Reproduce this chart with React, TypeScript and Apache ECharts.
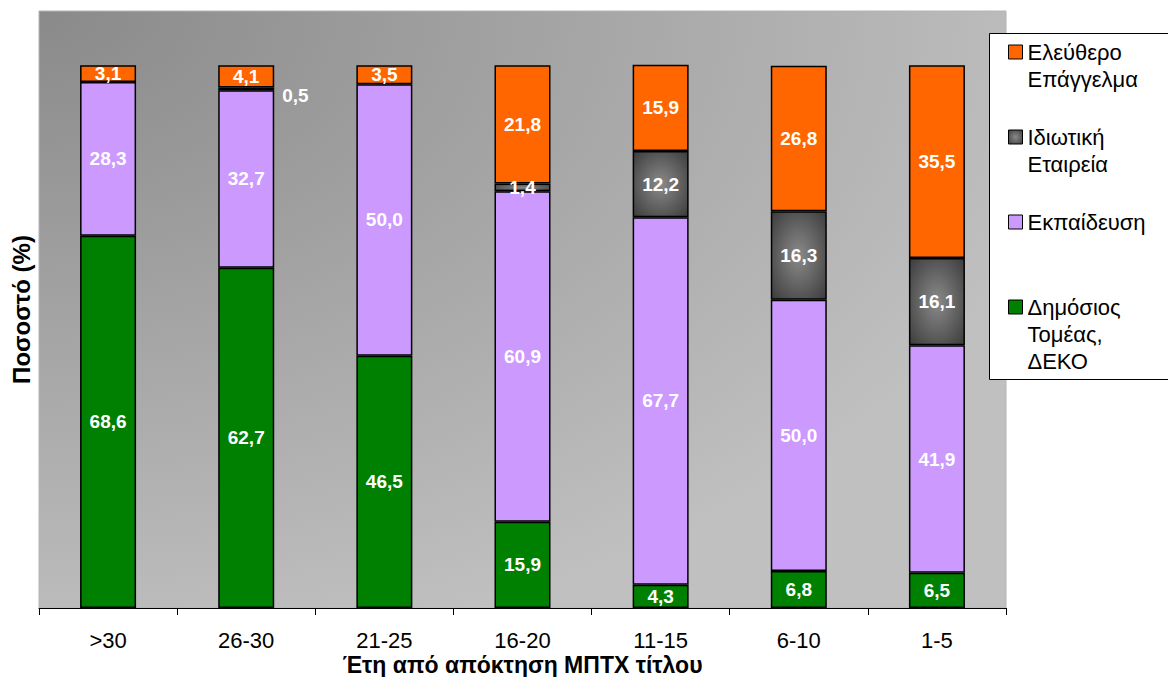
import React, { useEffect, useRef } from "react";
import * as echarts from "echarts";

const categories = [">30", "26-30", "21-25", "16-20", "11-15", "6-10", "1-5"];
const publicSector = [68.6, 62.7, 46.5, 15.9, 4.3, 6.8, 6.5];
const education = [28.3, 32.7, 50.0, 60.9, 67.7, 50.0, 41.9];
const privateCompany = [0, 0.5, 0, 1.4, 12.2, 16.3, 16.1];
const freelance = [3.1, 4.1, 3.5, 21.8, 15.9, 26.8, 35.5];

const seriesNames = [
  "Δημόσιος Τομέας, ΔΕΚΟ",
  "Εκπαίδευση",
  "Ιδιωτική Εταιρεία",
  "Ελεύθερο Επάγγελμα",
];
const legendLines: Record<string, string[]> = {
  "Ελεύθερο Επάγγελμα": ["Ελεύθερο", "Επάγγελμα"],
  "Ιδιωτική Εταιρεία": ["Ιδιωτική", "Εταιρεία"],
  "Εκπαίδευση": ["Εκπαίδευση"],
  "Δημόσιος Τομέας, ΔΕΚΟ": ["Δημόσιος", "Τομέας,", "ΔΕΚΟ"],
};
const yAxisTitle = "Ποσοστό (%)";
const xAxisTitle = "Έτη από απόκτηση ΜΠΤΧ τίτλου";

const FONT = "'Liberation Sans', Arial, sans-serif";

const fmt = (v: number) => v.toFixed(1).replace(".", ",");

const privateFill = {
  type: "radial",
  x: 0.5,
  y: 0.5,
  r: 0.9,
  colorStops: [
    { offset: 0, color: "#8a8a8a" },
    { offset: 1, color: "#262626" },
  ],
};

export default function App() {
  const ref = useRef<HTMLDivElement>(null);

  useEffect(() => {
    if (!ref.current) return;
    const chart = echarts.init(ref.current, undefined, { renderer: "svg" });

    const makeData = (arr: number[]) =>
      arr.map((v) => {
        if (v === 0) return "-";
        if (v < 1) {
          return {
            value: v,
            label: { position: "right", distance: 8, offset: [0, 7] },
          };
        }
        return v;
      });

    const colors = ["#008000", "#cc99ff", privateFill, "#ff6600"];
    const values = [publicSector, education, privateCompany, freelance];

    const series = seriesNames.map((name, i) => ({
      name,
      type: "bar",
      stack: "total",
      barWidth: 56,
      data: makeData(values[i]),
      itemStyle: { color: colors[i], borderColor: "#000", borderWidth: 1.5 },
      label: {
        show: true,
        position: "inside",
        color: "#fff",
        fontFamily: FONT,
        fontWeight: "bold",
        fontSize: 19,
        formatter: (p: any) => (p.value === "-" || p.value == null ? "" : fmt(Number(p.value))),
      },
    }));

    const lineH = 27;
    const legendOrder = [
      { name: "Ελεύθερο Επάγγελμα", cy: 52 },
      { name: "Ιδιωτική Εταιρεία", cy: 137 },
      { name: "Εκπαίδευση", cy: 222 },
      { name: "Δημόσιος Τομέας, ΔΕΚΟ", cy: 307 },
    ];
    const legends = legendOrder.map(({ name, cy }) => {
      const lines = legendLines[name];
      const pad = lines.length - 1;
      const all = [...Array(pad).fill(""), ...lines];
      const h = all.length * lineH;
      return {
        show: true,
        orient: "vertical",
        left: 1008,
        top: cy - h / 2,
        padding: 0,
        itemWidth: 14,
        itemHeight: 14,
        icon: "rect",
        z: 10,
        data: [name],
        selectedMode: false,
        formatter: () => all.join("\n"),
        textStyle: {
          fontFamily: FONT,
          fontSize: 22,
          color: "#000",
          lineHeight: lineH,
        },
        itemStyle: { borderColor: "#000", borderWidth: 1 },
      };
    });

    chart.setOption({
      animation: false,
      textStyle: { fontFamily: FONT },
      grid: {
        left: 39,
        right: 162,
        top: 11,
        bottom: 69,
        outerBoundsMode: "none",
        containLabel: false,
        show: true,
        borderColor: "#b4b4b4",
        borderWidth: 1,
        backgroundColor: {
          type: "radial",
          x: 0,
          y: 0,
          r: 1.1,
          colorStops: [
            { offset: 0, color: "#8a8a8a" },
            { offset: 1, color: "#c0c0c0" },
          ],
        },
      },
      legend: legends,
      graphic: [
        {
          type: "rect",
          z: 5,
          shape: { x: 989.5, y: 33.5, width: 200, height: 346 },
          style: { fill: "#fff", stroke: "#000", lineWidth: 1 },
        },
      ],
      xAxis: {
        type: "category",
        data: categories,
        axisLine: { show: true, lineStyle: { color: "#000", width: 1 } },
        axisTick: { show: true, length: 7, lineStyle: { color: "#000" } },
        axisLabel: {
          color: "#000",
          fontSize: 22,
          lineHeight: 22,
          fontFamily: FONT,
          margin: 21,
        },
        name: xAxisTitle,
        nameLocation: "middle",
        nameGap: 45,
        nameMoveOverlap: false,
        nameTextStyle: {
          color: "#000",
          fontSize: 23,
          lineHeight: 23,
          fontWeight: "bold",
          fontFamily: FONT,
        },
      },
      yAxis: {
        type: "value",
        min: 0,
        max: 110,
        axisLine: { show: false },
        axisTick: { show: false },
        axisLabel: { show: false },
        splitLine: { show: false },
        name: yAxisTitle,
        nameLocation: "middle",
        nameRotate: 90,
        nameGap: 6,
        nameMoveOverlap: false,
        nameTextStyle: {
          color: "#000",
          fontSize: 24,
          fontWeight: "bold",
          fontFamily: FONT,
        },
      },
      series,
    });

    return () => chart.dispose();
  }, []);

  return (
    <div
      ref={ref}
      style={{ position: "absolute", left: 0, top: 0, width: 1168, height: 677 }}
    />
  );
}
